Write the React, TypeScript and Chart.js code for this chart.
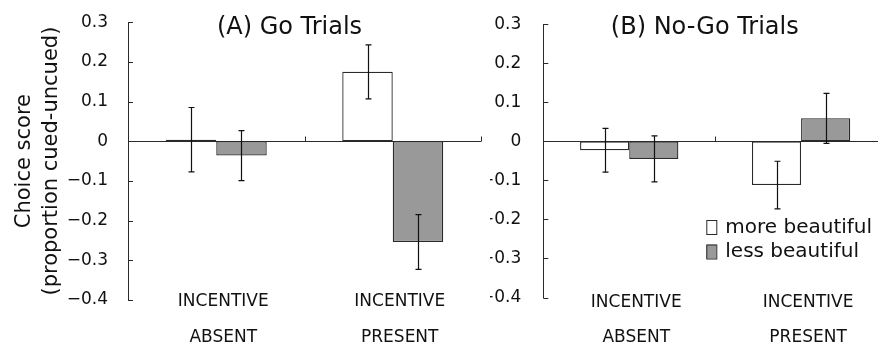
import React, { useEffect, useRef } from 'react';
import { Chart, registerables } from 'chart.js';

Chart.register(...registerables);

// ---- data ----
const categories: string[][] = [
  ['INCENTIVE', 'ABSENT'],
  ['INCENTIVE', 'PRESENT'],
];
const seriesNames = ['more beautiful', 'less beautiful'];

const goMore = [0.004, 0.175];
const goMoreErr = [0.081, 0.068];
const goLess = [-0.036, -0.254];
const goLessErr = [0.063, 0.069];

const noGoMore = [-0.023, -0.112];
const noGoMoreErr = [0.056, 0.061];
const noGoLess = [-0.045, 0.059];
const noGoLessErr = [0.059, 0.064];

const yMin = -0.4;
const yMax = 0.3;
const yStep = 0.1;
const yTitleLines = ['Choice score', '(proportion cued-uncued)'];
const panelTitles = ['(A) Go Trials', '(B) No-Go Trials'];

// ---- styles ----
const FONT = "'DejaVu Sans', 'Noto Sans', sans-serif";
const INK = '#111111';
const EDGE = '#2a2a2a';
const FILLS = ['#ffffff', '#999999'];

type PanelCfg = {
  title: string;
  more: number[];
  moreErr: number[];
  less: number[];
  lessErr: number[];
  legend: boolean;
  yTitle: boolean;
  left: number;
  width: number;
  yAxisWidth: number;
  padRight: number;
  padTop: number;
  xAxisHeight: number;
  yTickPad: number;
  xLabelRows: number[];
};

function fmtTick(v: number): string {
  if (Math.abs(v) < 1e-9) return '0';
  return (v < 0 ? '\u2212' : '') + Math.abs(v).toFixed(1);
}

function makePlugin(cfg: PanelCfg) {
  const errs = [cfg.moreErr, cfg.lessErr];
  const vals = [cfg.more, cfg.less];
  return {
    id: 'decor',
    beforeDatasetsDraw(chart: any) {
      const { ctx, chartArea } = chart;
      const y = chart.scales.y;
      const y0 = Math.round(y.getPixelForValue(0)) + 0.5;
      ctx.save();
      ctx.strokeStyle = EDGE;
      ctx.lineWidth = 1;
      ctx.beginPath();
      ctx.moveTo(chartArea.left, y0);
      ctx.lineTo(chartArea.right, y0);
      ctx.stroke();
      ctx.restore();
    },
    afterDatasetsDraw(chart: any) {
      const { ctx } = chart;
      const y = chart.scales.y;
      ctx.save();
      ctx.strokeStyle = INK;
      ctx.lineWidth = 1.2;
      for (let d = 0; d < 2; d++) {
        const meta = chart.getDatasetMeta(d);
        meta.data.forEach((bar: any, j: number) => {
          const v = vals[d][j];
          const e = errs[d][j];
          const x = Math.round(bar.x) + 0.5;
          const yt = y.getPixelForValue(v + e);
          const yb = y.getPixelForValue(v - e);
          ctx.beginPath();
          ctx.moveTo(x, yt);
          ctx.lineTo(x, yb);
          ctx.moveTo(x - 3, yt);
          ctx.lineTo(x + 3, yt);
          ctx.moveTo(x - 3, yb);
          ctx.lineTo(x + 3, yb);
          ctx.stroke();
        });
      }
      ctx.restore();
    },
    afterDraw(chart: any) {
      const { ctx, chartArea } = chart;
      const y = chart.scales.y;
      const x = chart.scales.x;
      ctx.save();
      ctx.strokeStyle = EDGE;
      ctx.lineWidth = 1;
      // inward ticks on y axis
      y.ticks.forEach((t: any) => {
        const py = Math.round(y.getPixelForValue(t.value)) + 0.5;
        ctx.beginPath();
        ctx.moveTo(chartArea.left, py);
        ctx.lineTo(chartArea.left + 5, py);
        ctx.stroke();
      });
      // category boundary ticks on zero line
      const y0 = Math.round(y.getPixelForValue(0)) + 0.5;
      for (let i = 0; i < categories.length; i++) {
        const bx = Math.round(x.getPixelForValue(i + 0.5)) + 0.5;
        ctx.beginPath();
        ctx.moveTo(bx, y0);
        ctx.lineTo(bx, y0 - 5);
        ctx.stroke();
      }
      // category labels (two rows)
      ctx.fillStyle = INK;
      ctx.font = `17px ${FONT}`;
      ctx.textAlign = 'center';
      ctx.textBaseline = 'middle';
      categories.forEach((lines, i) => {
        const cx = x.getPixelForValue(i) + 7;
        lines.forEach((line, k) => {
          ctx.fillText(line, cx, cfg.xLabelRows[k]);
        });
      });
      // panel title
      ctx.font = `24px ${FONT}`;
      ctx.textAlign = 'center';
      ctx.textBaseline = 'alphabetic';
      ctx.fillText(cfg.title, chartArea.left + 161.5, 33.5);
      // legend
      if (cfg.legend) {
        const lx = chartArea.left + 163;
        const rows = [220, 244.5];
        ctx.font = `20px ${FONT}`;
        ctx.textAlign = 'left';
        for (let i = 0; i < seriesNames.length; i++) {
          ctx.fillStyle = FILLS[i];
          ctx.fillRect(lx, rows[i], 10, 14);
          ctx.strokeStyle = EDGE;
          ctx.lineWidth = 1;
          ctx.strokeRect(lx + 0.5, rows[i] + 0.5, 10, 14);
          ctx.fillStyle = INK;
          ctx.fillText(seriesNames[i], lx + 19, rows[i] + 12.7);
        }
      }
      ctx.restore();
    },
  };
}

function Panel({ cfg }: { cfg: PanelCfg }) {
  const ref = useRef<HTMLCanvasElement | null>(null);
  useEffect(() => {
    if (!ref.current) return;
    const chart = new Chart(ref.current, {
      type: 'bar',
      data: {
        labels: categories,
        datasets: [
          {
            label: seriesNames[0],
            data: cfg.more,
            backgroundColor: FILLS[0],
            borderColor: EDGE,
            borderWidth: 1.3,
            borderSkipped: false,
          },
          {
            label: seriesNames[1],
            data: cfg.less,
            backgroundColor: FILLS[1],
            borderColor: EDGE,
            borderWidth: 1.3,
            borderSkipped: false,
          },
        ],
      },
      options: {
        responsive: false,
        animation: false,
        devicePixelRatio: 1,
        layout: { padding: { top: cfg.padTop, right: cfg.padRight, bottom: 0, left: 0 } },
        datasets: { bar: { categoryPercentage: 0.572, barPercentage: 1 } },
        plugins: {
          legend: { display: false },
          title: { display: false },
          tooltip: { enabled: false },
        },
        scales: {
          x: {
            type: 'category',
            grid: { display: false },
            border: { display: false },
            ticks: { display: false },
            afterFit: (s: any) => {
              s.height = cfg.xAxisHeight;
            },
          },
          y: {
            min: yMin,
            max: yMax,
            grid: { display: false },
            border: { display: true, color: EDGE, width: 1 },
            ticks: {
              stepSize: yStep,
              color: INK,
              font: { family: FONT, size: 17 },
              padding: cfg.yTickPad,
              callback: (v: any) => fmtTick(Number(v)),
            },
            title: {
              display: cfg.yTitle,
              text: yTitleLines,
              color: INK,
              font: { family: FONT, size: 21, lineHeight: '27px' },
              padding: { top: 11.5, bottom: 0 },
            },
            afterFit: (s: any) => {
              s.width = cfg.yAxisWidth;
            },
          },
        },
      } as any,
      plugins: [makePlugin(cfg)],
    });
    return () => chart.destroy();
  }, [cfg]);
  return (
    <div style={{ position: 'absolute', left: cfg.left, top: 0, width: cfg.width, height: 349 }}>
      <canvas ref={ref} width={cfg.width} height={349} style={{ display: 'block' }} />
    </div>
  );
}

const leftCfg: PanelCfg = {
  title: panelTitles[0],
  more: goMore,
  moreErr: goMoreErr,
  less: goLess,
  lessErr: goLessErr,
  legend: false,
  yTitle: true,
  left: 0,
  width: 490,
  yAxisWidth: 128,
  padRight: 9,
  padTop: 19.3,
  xAxisHeight: 49,
  yTickPad: 12,
  xLabelRows: [302, 337.5],
};

const rightCfg: PanelCfg = {
  title: panelTitles[1],
  more: noGoMore,
  moreErr: noGoMoreErr,
  less: noGoLess,
  lessErr: noGoLessErr,
  legend: true,
  yTitle: false,
  left: 490,
  width: 400,
  yAxisWidth: 53.3,
  padRight: 3,
  padTop: 19.3,
  xAxisHeight: 51.5,
  yTickPad: 14,
  xLabelRows: [303, 338],
};

export default function App() {
  return (
    <div
      style={{
        position: 'fixed',
        left: 0,
        top: 0,
        width: 878,
        height: 349,
        overflow: 'hidden',
        background: '#ffffff',
      }}
    >
      <Panel cfg={leftCfg} />
      <Panel cfg={rightCfg} />
    </div>
  );
}
